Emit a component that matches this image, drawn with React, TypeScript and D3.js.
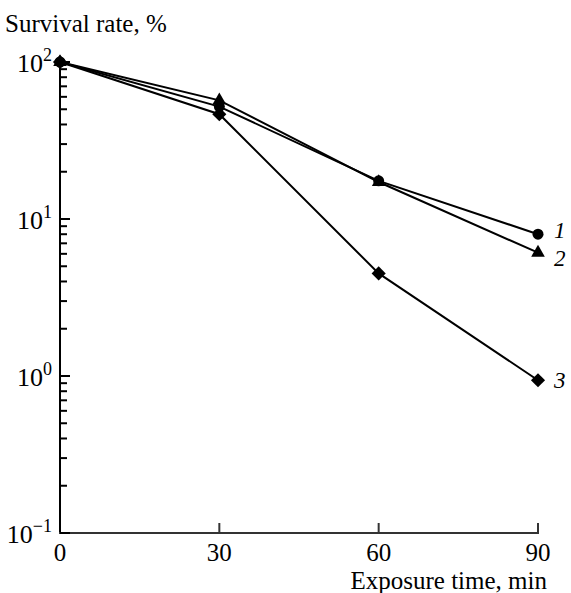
import { useEffect, useRef } from 'react';
import * as d3 from 'd3';

// exposure times, min
const times = [0, 30, 60, 90];
// survival rate, %
const series1 = [100, 52, 17.5, 8.0];
const series2 = [100, 57, 17.2, 6.1];
const series3 = [100, 46.5, 4.5, 0.94];
const seriesNames = ['1', '2', '3'];
const yTickPowers = [-1, 0, 1, 2];
const xTicks = [0, 30, 60, 90];

const App = () => {
  const ref = useRef<HTMLDivElement>(null);

  useEffect(() => {
    d3.select(ref.current).selectAll('*').remove();

    const width = 571;
    const height = 593;
    const font = 'Liberation Serif, Times New Roman, serif';

    const svg = d3.select(ref.current)
      .append('svg')
      .attr('width', width)
      .attr('height', height)
      .style('position', 'absolute')
      .style('left', 0)
      .style('top', 0)
      .style('background', '#fff');

    const x = d3.scaleLinear().domain([0, 90]).range([60, 538]);
    const y = d3.scaleLog().domain([0.1, 100]).range([533, 62]);

    // axes lines
    svg.append('line')
      .attr('x1', x(0)).attr('x2', x(0))
      .attr('y1', y(100)).attr('y2', y(0.1) + 1)
      .attr('stroke', '#000').attr('stroke-width', 2);
    svg.append('line')
      .attr('x1', x(0) - 1).attr('x2', x(90) + 1)
      .attr('y1', y(0.1)).attr('y2', y(0.1))
      .attr('stroke', '#333').attr('stroke-width', 2);

    // y ticks, major and minor, pointing inward
    yTickPowers.forEach(p => {
      const base = Math.pow(10, p);
      svg.append('line')
        .attr('x1', x(0)).attr('x2', x(0) + 10)
        .attr('y1', y(base)).attr('y2', y(base))
        .attr('stroke', '#000').attr('stroke-width', 2);
      if (p < 2) {
        for (let m = 2; m <= 9; m++) {
          svg.append('line')
            .attr('x1', x(0)).attr('x2', x(0) + 7)
            .attr('y1', y(base * m)).attr('y2', y(base * m))
            .attr('stroke', '#000').attr('stroke-width', 2);
        }
      }
      const t = svg.append('text')
        .attr('x', x(0) - 8)
        .attr('y', y(base) + 10)
        .attr('text-anchor', 'end')
        .attr('font-family', font)
        .attr('font-size', 26);
      t.append('tspan').text('10');
      t.append('tspan')
        .attr('dy', -11)
        .attr('font-size', 18)
        .text(p < 0 ? '\u2212' + Math.abs(p) : String(p));
    });

    // x ticks
    xTicks.forEach(v => {
      if (v > 0) {
        svg.append('line')
          .attr('x1', x(v)).attr('x2', x(v))
          .attr('y1', y(0.1)).attr('y2', y(0.1) - 10)
          .attr('stroke', '#333').attr('stroke-width', 2);
      }
      svg.append('text')
        .attr('x', x(v))
        .attr('y', 561)
        .attr('text-anchor', 'middle')
        .attr('font-family', font)
        .attr('font-size', 25)
        .text(v);
    });

    // axis titles
    svg.append('text')
      .attr('x', 5).attr('y', 32)
      .attr('font-family', font).attr('font-size', 25)
      .text('Survival rate, %');
    svg.append('text')
      .attr('x', 547).attr('y', 589)
      .attr('text-anchor', 'end')
      .attr('font-family', font).attr('font-size', 25)
      .text('Exposure time, min');

    const line = d3.line<number>()
      .x((d, i) => x(times[i]))
      .y(d => y(d));

    const allSeries = [series1, series2, series3];
    const symbols = [d3.symbolCircle, d3.symbolTriangle, d3.symbolSquare];
    const sizes = [95, 80, 100];
    const rotations = [0, 0, 45];
    const labelDy = [4, 13, 8];

    allSeries.forEach((s, k) => {
      svg.append('path')
        .datum(s)
        .attr('fill', 'none')
        .attr('stroke', '#000')
        .attr('stroke-width', 2)
        .attr('d', line);
      svg.selectAll(`.pt${k}`)
        .data(s)
        .enter()
        .append('path')
        .attr('class', `pt${k}`)
        .attr('d', d3.symbol().type(symbols[k]).size(sizes[k]))
        .attr('transform', (d, i) => `translate(${x(times[i])}, ${y(d)}) rotate(${rotations[k]})`)
        .attr('fill', '#000');
      svg.append('text')
        .attr('x', x(90) + 16)
        .attr('y', y(s[s.length - 1]) + labelDy[k])
        .attr('font-family', font)
        .attr('font-style', 'italic')
        .attr('font-size', 23)
        .text(seriesNames[k]);
    });
  }, []);

  return <div ref={ref}></div>;
};

export default App;
